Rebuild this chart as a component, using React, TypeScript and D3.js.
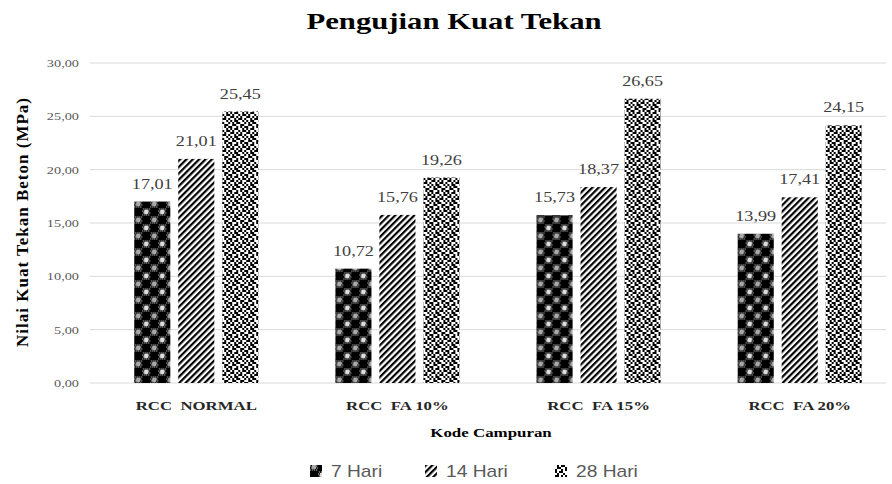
import * as d3 from 'd3'

const categories = ['RCC  NORMAL', 'RCC  FA 10%', 'RCC  FA 15%', 'RCC  FA 20%']
const seriesNames = ['7 Hari', '14 Hari', '28 Hari']
const hari7 = [17.01, 10.72, 15.73, 13.99]
const hari14 = [21.01, 15.76, 18.37, 17.41]
const hari28 = [25.45, 19.26, 26.65, 24.15]
const yTicks = [0, 5, 10, 15, 20, 25, 30]

const seriesValues = [hari7, hari14, hari28]
const patternIds = ['pat7', 'pat14', 'pat28']

// maze-like tile for the 28 day bars
const mazeRows = [
  '10110010',
  '01001011',
  '11010100',
  '00101101',
  '10110010',
  '01011001',
  '01100110',
  '10010101',
]

const locale = d3.formatLocale({ decimal: ',', thousands: '.', grouping: [3], currency: ['', ''] })
const fmt = locale.format('.2f')

// the source picture is wide, text gets a horizontal stretch
const stretch = 1.3

export default function App() {
  const width = 892
  const height = 484
  const serif = '"Liberation Serif", "Times New Roman", serif'
  const sans = '"Liberation Sans", Arial, sans-serif'

  const x0 = d3.scaleBand<string>().domain(categories).range([96, 900]).paddingInner(0.383).paddingOuter(0.19)
  const x1 = d3.scaleBand<number>().domain([0, 1, 2]).range([0, x0.bandwidth()]).paddingInner(0.18)
  const y = d3.scaleLinear().domain([0, 30]).range([383, 63])

  const plotLeft = 90
  const plotRight = 886
  const legendX = [310, 425, 555]

  return (
    <svg width={width} height={height} style={{ position: 'absolute', left: 0, top: 0, background: '#fff' }}>
      <defs>
        <pattern id="pat7" width={16} height={16} patternUnits="userSpaceOnUse">
          <rect width={16} height={16} fill="#666" />
          {d3.range(0, 16, 2).map(i =>
            d3.range(0, 16, 2).map(j => (
              <rect key={`${i}-${j}`} x={i + ((j / 2) % 2)} y={j} width={1} height={2} fill="#111" />
            ))
          )}
          <rect x={0} y={0} width={8} height={8} fill="#000" />
          <rect x={8} y={8} width={8} height={8} fill="#000" />
          <circle cx={12} cy={4} r={2.4} fill="#ddd" />
          <circle cx={4} cy={12} r={2.4} fill="#aaa" />
        </pattern>
        <pattern id="pat14" width={4.5} height={4.5} patternUnits="userSpaceOnUse" patternTransform="rotate(45)">
          <rect width={4.5} height={4.5} fill="#fff" />
          <rect width={2.2} height={4.5} fill="#000" />
        </pattern>
        <pattern id="pat28" width={16} height={16} patternUnits="userSpaceOnUse">
          <rect width={16} height={16} fill="#fff" />
          {mazeRows.map((row, r) =>
            row.split('').map((c, k) =>
              c === '1' ? <rect key={`${r}-${k}`} x={k * 2} y={r * 2} width={2} height={2} fill="#000" /> : null
            )
          )}
        </pattern>
      </defs>

      <text
        transform={`translate(454,29) scale(1.28,1)`}
        textAnchor="middle"
        fontFamily={serif}
        fontWeight="bold"
        fontSize={24}
        fill="#000"
      >
        Pengujian Kuat Tekan
      </text>

      {yTicks.map(t => (
        <g key={t}>
          <line x1={plotLeft} x2={plotRight} y1={y(t)} y2={y(t)} stroke="#d9d9d9" strokeWidth={1} />
          <text
            transform={`translate(79,${y(t)}) scale(${stretch},1)`}
            dy="0.35em"
            textAnchor="end"
            fontFamily={serif}
            fontSize={11}
            fill="#595959"
          >
            {fmt(t)}
          </text>
        </g>
      ))}

      {categories.map((cat, ci) => (
        <g key={cat} transform={`translate(${x0(cat)},0)`}>
          {seriesValues.map((vals, si) => (
            <g key={si}>
              <rect
                x={x1(si)}
                y={y(vals[ci])}
                width={x1.bandwidth()}
                height={y(0) - y(vals[ci])}
                fill={`url(#${patternIds[si]})`}
              />
              <text
                transform={`translate(${(x1(si) ?? 0) + x1.bandwidth() / 2},${y(vals[ci]) - 13}) scale(${stretch},1)`}
                textAnchor="middle"
                fontFamily={serif}
                fontSize={14}
                fill="#404040"
              >
                {fmt(vals[ci])}
              </text>
            </g>
          ))}
          <text
            transform={`translate(${x0.bandwidth() / 2},410) scale(1.4,1)`}
            textAnchor="middle"
            fontFamily={serif}
            fontWeight="bold"
            fontSize={12}
            fill="#262626"
            style={{ whiteSpace: 'pre' }}
          >
            {cat}
          </text>
        </g>
      ))}

      <text
        transform={`translate(491,437) scale(${stretch},1)`}
        textAnchor="middle"
        fontFamily={serif}
        fontWeight="bold"
        fontSize={13}
        fill="#000"
      >
        Kode Campuran
      </text>

      <text
        transform={`translate(28,222) rotate(-90)`}
        textAnchor="middle"
        fontFamily={serif}
        fontWeight="bold"
        fontSize={17}
        letterSpacing={1}
        fill="#000"
      >
        Nilai Kuat Tekan Beton (MPa)
      </text>

      {seriesNames.map((name, i) => (
        <g key={name} transform={`translate(${legendX[i]},471)`}>
          <rect x={0} y={-6} width={12} height={12} fill={`url(#${patternIds[i]})`} />
          <text
            transform={`translate(21,0) scale(1.2,1)`}
            dy="0.35em"
            fontFamily={sans}
            fontSize={16}
            fill="#595959"
          >
            {name}
          </text>
        </g>
      ))}
    </svg>
  )
}
